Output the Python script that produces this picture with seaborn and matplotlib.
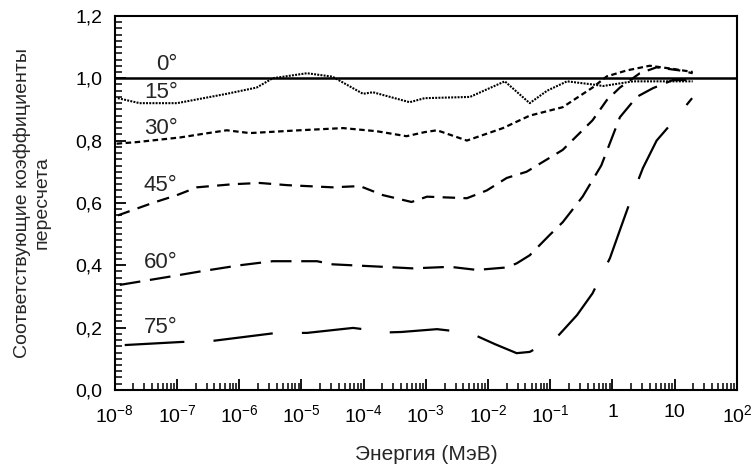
import numpy as np
import pandas as pd
import matplotlib
matplotlib.use('Agg')
import matplotlib.pyplot as plt
import seaborn as sns
from matplotlib.ticker import FixedLocator, LogLocator, MultipleLocator, FuncFormatter, NullFormatter

# values: log10(energy, MeV) and coefficient
loge_0 = [-8, 2]
k_0 = [1.0, 1.0]

loge_15 = [-7.95, -7.6, -7.0, -6.2, -5.72, -5.46, -4.91, -4.5, -4.01, -3.85, -3.26, -3.02,
           -2.29, -1.73, -1.33, -1.05, -0.73, -0.32, -0.15, 0.33, 1.29]
k_15 = [0.936, 0.92, 0.92, 0.95, 0.97, 1.0, 1.016, 1.005, 0.95, 0.955, 0.923, 0.936,
        0.94, 0.99, 0.92, 0.96, 0.99, 0.98, 0.975, 0.99, 0.99]

loge_30 = [-7.97, -7.65, -6.95, -6.63, -6.2, -5.83, -5.03, -4.33, -3.79, -3.31, -3.02, -2.82,
           -2.34, -1.76, -1.33, -0.80, -0.32, -0.09, 0.23, 0.60, 0.97, 1.29]
k_30 = [0.79, 0.795, 0.81, 0.82, 0.833, 0.824, 0.833, 0.84, 0.83, 0.814, 0.827, 0.833,
        0.80, 0.84, 0.88, 0.907, 0.97, 1.006, 1.025, 1.04, 1.03, 1.02]

loge_45 = [-7.95, -7.39, -7.0, -6.68, -6.1, -5.67, -5.23, -4.5, -4.06, -3.69, -3.23, -2.98,
           -2.34, -2.02, -1.70, -1.38, -0.80, -0.32, -0.09, 0.12, 0.44, 0.71, 1.08, 1.29]
k_45 = [0.56, 0.6, 0.625, 0.65, 0.66, 0.664, 0.657, 0.65, 0.654, 0.625, 0.603, 0.62,
        0.615, 0.64, 0.68, 0.70, 0.77, 0.865, 0.93, 0.97, 1.016, 1.035, 1.025, 1.016]

loge_60 = [-7.92, -7.16, -6.63, -5.99, -5.46, -4.75, -4.5, -3.69, -3.21, -2.61, -2.18, -1.70,
           -1.54, -1.33, -1.01, -0.80, -0.48, -0.18, 0.12, 0.39, 0.65, 0.97, 1.29]
k_60 = [0.337, 0.362, 0.38, 0.40, 0.413, 0.413, 0.403, 0.395, 0.39, 0.395, 0.385, 0.393,
        0.406, 0.432, 0.497, 0.538, 0.62, 0.72, 0.875, 0.94, 0.968, 0.994, 0.994]

loge_75 = [-7.84, -6.92, -6.44, -5.40, -4.91, -4.17, -4.01, -3.85, -3.39, -2.82, -2.29, -1.89,
           -1.54, -1.33, -0.89, -0.57, -0.32, -0.04, 0.12, 0.33, 0.49, 0.71, 0.97, 1.28]
k_75 = [0.144, 0.154, 0.157, 0.183, 0.183, 0.199, 0.195, 0.183, 0.186, 0.195, 0.183, 0.147,
        0.118, 0.122, 0.17, 0.24, 0.31, 0.423, 0.513, 0.63, 0.712, 0.80, 0.86, 0.936]

x_ticks = [-8, -7, -6, -5, -4, -3, -2, -1, 0, 1, 2]
x_tick_labels = ['$10^{-8}$', '$10^{-7}$', '$10^{-6}$', '$10^{-5}$', '$10^{-4}$', '$10^{-3}$',
                 '$10^{-2}$', '$10^{-1}$', '1', '10', '$10^{2}$']
angle_labels = ['0°', '15°', '30°', '45°', '60°', '75°']

sns.set_style('ticks')
plt.rcParams['font.family'] = ['Liberation Sans', 'DejaVu Sans']
plt.rcParams['mathtext.default'] = 'regular'
plt.rcParams['lines.scale_dashes'] = False

fig, ax = plt.subplots(figsize=(7.55, 4.67), dpi=100)
fig.subplots_adjust(left=0.152, right=0.976, bottom=0.165, top=0.966)

series = [
    (loge_0, k_0, None, 1.8),
    (loge_15, k_15, (1.4, 0.9), 1.5),
    (loge_30, k_30, (4.0, 2.5), 1.6),
    (loge_45, k_45, (9.0, 6.0), 1.6),
    (loge_60, k_60, (15.0, 7.0), 1.6),
    (loge_75, k_75, (43.0, 21.0), 1.6),
]
for loge, k, dash, lw in series:
    df = pd.DataFrame({'E': 10.0 ** np.array(loge), 'k': k})
    sns.lineplot(data=df, x='E', y='k', color='black', linewidth=lw,
                 sort=False, estimator=None, ax=ax)
    if dash is not None:
        ax.lines[-1].set_dashes(dash)

ax.set_xscale('log')
ax.set_xlim(1e-8, 1e2)
ax.set_ylim(0, 1.2)

# angle labels
label_pos = [(-7.16, 1.045), (-7.26, 0.955), (-7.26, 0.84), (-7.26, 0.657), (-7.26, 0.41), (-7.26, 0.2)]
for (lx, ly), txt in zip(label_pos, angle_labels):
    ax.text(10.0 ** lx, ly, txt, fontsize=16, ha='center', va='center')

ax.xaxis.set_major_locator(FixedLocator([10.0 ** t for t in x_ticks]))
ax.set_xticklabels(x_tick_labels)
ax.xaxis.set_minor_locator(LogLocator(base=10, subs=range(2, 10), numticks=100))
ax.xaxis.set_minor_formatter(NullFormatter())
ax.yaxis.set_major_locator(MultipleLocator(0.2))
ax.yaxis.set_minor_locator(MultipleLocator(0.02))
ax.yaxis.set_major_formatter(FuncFormatter(lambda v, _: f'{v:.1f}'.replace('.', ',')))

ax.tick_params(axis='both', which='major', direction='in', length=8, width=1.3,
               labelsize=14, top=False, right=False, colors='black')
ax.tick_params(axis='x', which='major', pad=10)
ax.tick_params(axis='y', which='major', pad=9)
ax.tick_params(axis='both', which='minor', direction='in', length=5, width=1.1,
               top=False, right=False, colors='black')
for sp in ax.spines.values():
    sp.set_linewidth(1.5)
    sp.set_color('black')

ax.set_xlabel('Энергия (МэВ)', fontsize=15, labelpad=14)
ax.set_ylabel('Соответствующие коэффициенты\nпересчета', fontsize=14, labelpad=18)

fig.savefig('out.png', dpi=100)
